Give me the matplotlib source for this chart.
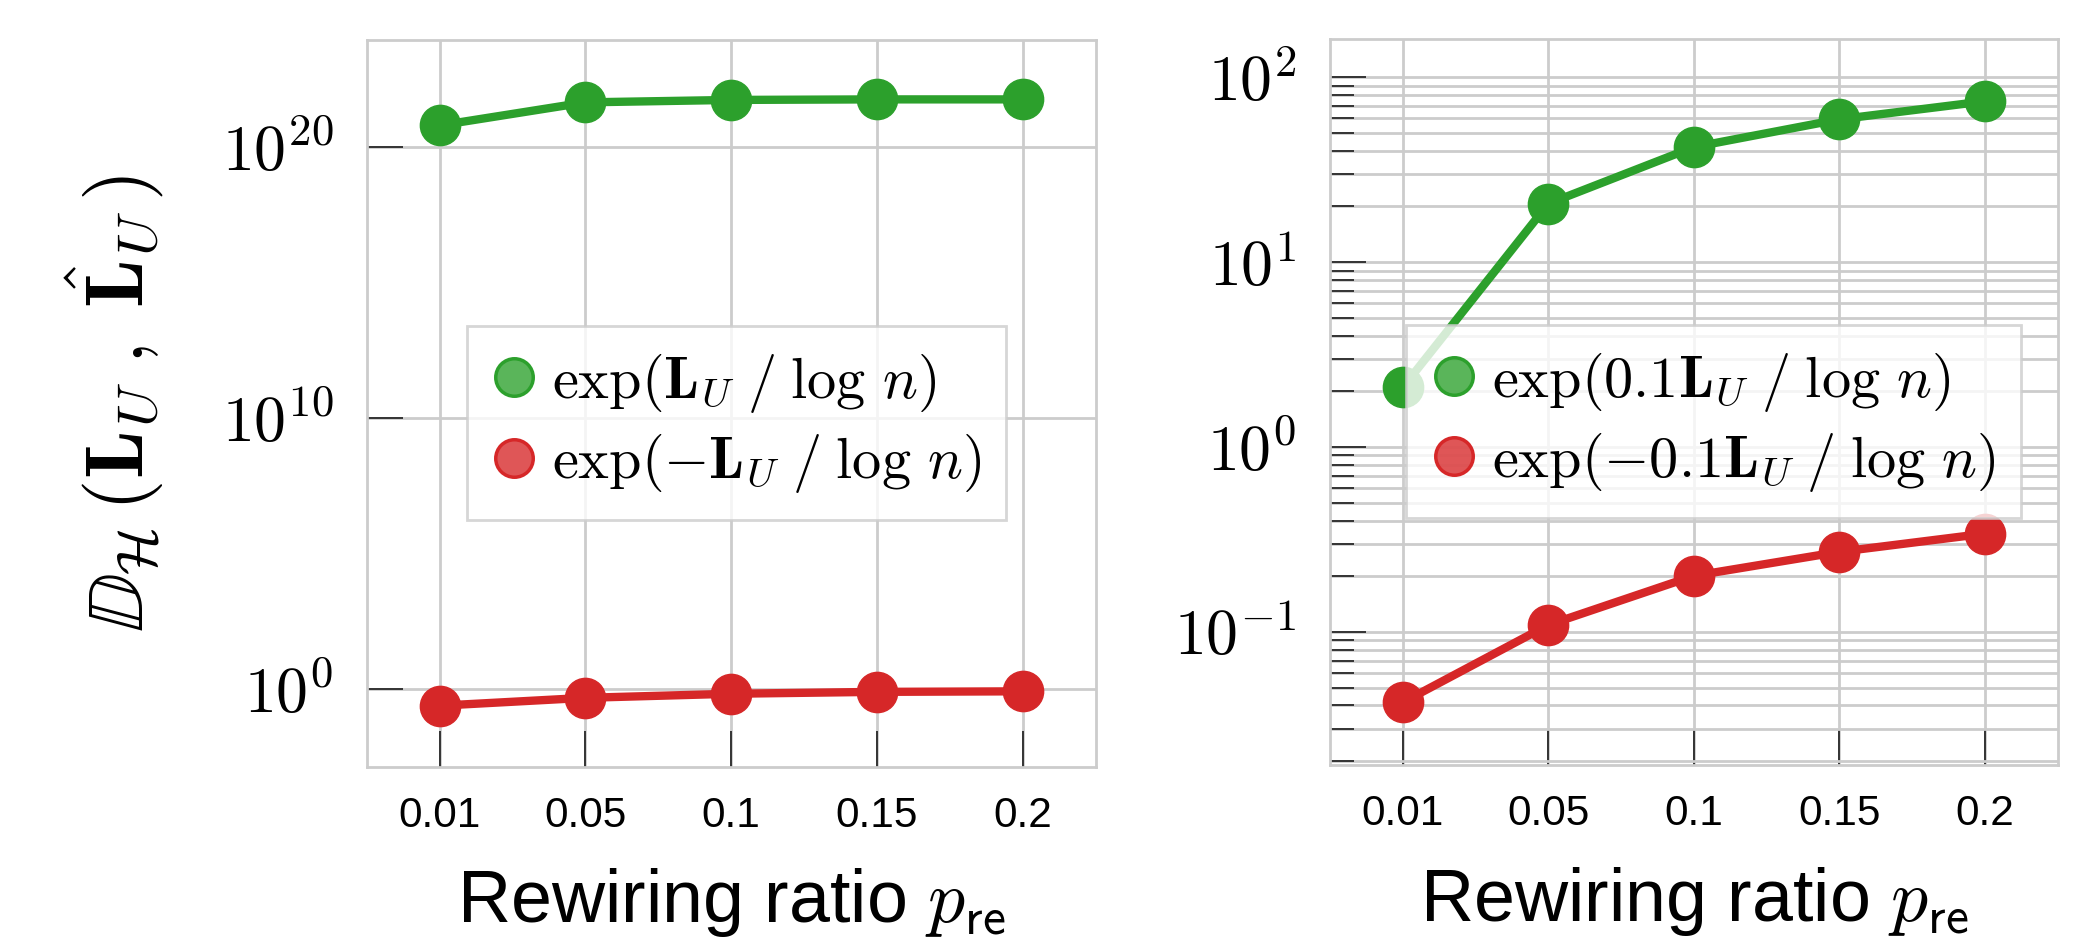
import numpy as np
import matplotlib
matplotlib.use("Agg")
import matplotlib.pyplot as plt
from matplotlib.lines import Line2D
from matplotlib.ticker import FixedLocator, FuncFormatter, LogLocator, NullLocator, NullFormatter

plt.rcParams['font.family'] = ['Liberation Sans', 'DejaVu Sans']
plt.rcParams['mathtext.fontset'] = 'cm'

# ---- data ----
ratios = ['0.01', '0.05', '0.1', '0.15', '0.2']
left_pos = [10**20.80, 10**21.65, 10**21.74, 10**21.76, 10**21.76]
left_neg = [10**-0.60, 10**-0.31, 10**-0.16, 10**-0.09, 10**-0.07]
right_pos = [2.1, 20.7, 41.9, 59.2, 74.1]
right_neg = [0.0416, 0.109, 0.201, 0.271, 0.340]

left_labels = [r'$\exp(\mathbf{L}_U\;/\;\log\,n)$', r'$\exp(-\mathbf{L}_U\;/\;\log\,n)$']
right_labels = [r'$\exp(0.1\mathbf{L}_U\;/\;\log\,n)$', r'$\exp(-0.1\mathbf{L}_U\;/\;\log\,n)$']

GREEN = '#2ca02c'
RED = '#d62728'
GRID = '#cccccc'

W, H = 2081, 946
fig = plt.figure(figsize=(W / 100, H / 100), dpi=100)
axL = fig.add_axes([366.7 / W, 1 - 766.7 / H, 729 / W, 726.7 / H])
axR = fig.add_axes([1330 / W, 1 - 765 / H, 727.7 / W, 725.7 / H])

x = np.arange(len(ratios))


def style(ax):
    ax.set_yscale('log')
    ax.set_xlim(-0.5, len(ratios) - 0.5)
    ax.set_xticks(x)
    ax.set_xticklabels(ratios)
    for s in ax.spines.values():
        s.set_color(GRID)
        s.set_linewidth(2.0)
    ax.set_axisbelow(True)
    ax.tick_params(axis='both', which='major', direction='in', length=26, width=1.4,
                   color='#333333')
    ax.tick_params(axis='x', labelsize=30.5, pad=21)
    ax.tick_params(axis='y', labelsize=46, pad=24)
    ax.tick_params(axis='y', which='minor', direction='in', length=17, width=1.4,
                   color='#333333')
    ax.set_xlabel(r'Rewiring ratio $p_{\mathsf{re}}$', fontsize=53, labelpad=22)


def fmt(v, pos):
    e = int(round(np.log10(v)))
    return r'$10^{%d}$' % e


for ax, pos, neg, labels in [(axL, left_pos, left_neg, left_labels),
                             (axR, right_pos, right_neg, right_labels)]:
    style(ax)
    ax.plot(x, pos, '-o', color=GREEN, lw=6, markersize=29, zorder=3)
    ax.plot(x, neg, '-o', color=RED, lw=6, markersize=29, zorder=3)

# left axis
axL.set_ylim(10**-2.85, 10**23.95)
axL.yaxis.set_major_locator(FixedLocator([1e0, 1e10, 1e20]))
axL.yaxis.set_minor_locator(NullLocator())
axL.yaxis.set_major_formatter(FuncFormatter(fmt))
axL.grid(True, which='major', color=GRID, lw=2.0)
axL.set_ylabel(r'$\mathbb{D}_{\mathcal{H}}\,(\mathbf{L}_U\;,\;\hat{\mathbf{L}}_U\,)$', fontsize=58,
               labelpad=40)

# right axis
axR.set_ylim(10**-1.72, 10**2.205)
axR.yaxis.set_major_locator(FixedLocator([1e-1, 1e0, 1e1, 1e2]))
axR.yaxis.set_minor_locator(LogLocator(base=10, subs=np.arange(2, 10), numticks=20))
axR.yaxis.set_minor_formatter(NullFormatter())
axR.yaxis.set_major_formatter(FuncFormatter(fmt))
axR.grid(True, which='major', color=GRID, lw=2.0)
axR.grid(True, which='minor', axis='y', color=GRID, lw=2.0)


def handles():
    return [Line2D([], [], marker='o', ls='none', markersize=27,
                   markerfacecolor=(0.173, 0.627, 0.173, 0.78), markeredgecolor=GREEN,
                   markeredgewidth=2.5),
            Line2D([], [], marker='o', ls='none', markersize=27,
                   markerfacecolor=(0.839, 0.153, 0.157, 0.78), markeredgecolor=RED,
                   markeredgewidth=2.5)]


for ax, labels, cx in [(axL, left_labels, 0.507), (axR, right_labels, 0.527)]:
    leg = ax.legend(handles(), labels, loc='center', bbox_to_anchor=(cx, 0.473),
                    fontsize=42, frameon=True, fancybox=False, framealpha=0.8,
                    edgecolor=GRID, handlelength=0.8, handletextpad=0.25,
                    labelspacing=0.28, borderpad=0.42, borderaxespad=0)
    leg.get_frame().set_linewidth(2.0)
    leg.set_zorder(5)

fig.savefig('out.png', dpi=100)
